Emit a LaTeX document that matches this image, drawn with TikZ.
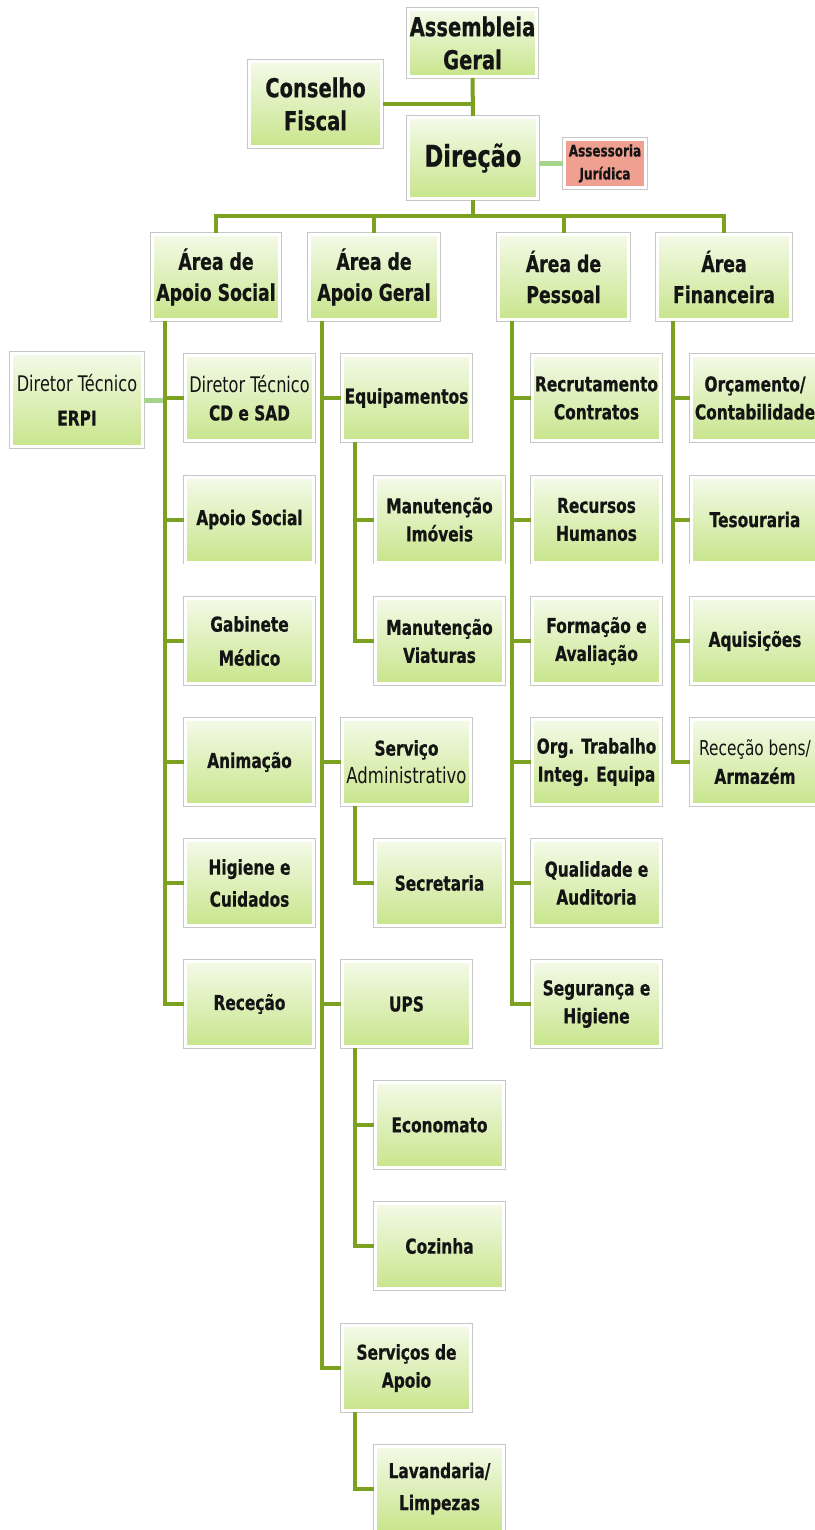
\documentclass[tikz,border=0pt]{standalone}
\usepackage{fontspec}
\setmainfont{DejaVu Sans}[FakeStretch=0.75, BoldFeatures={FakeBold=0.6}]
\newcommand\myfs[2]{\fontsize{#1}{#2}\selectfont}
\definecolor{lnk}{RGB}{124,160,32}
\definecolor{lite}{RGB}{166,212,140}
\definecolor{gtop}{RGB}{244,250,232}
\definecolor{gbot}{RGB}{200,229,140}
\definecolor{pinkbox}{RGB}{240,160,145}
\definecolor{txt}{RGB}{20,20,20}
\tikzset{
  box/.style={shape=rectangle, top color=gtop, bottom color=gbot,
    preaction={draw=black!22, line width=4.2pt},
    draw=white, line width=3pt, inner sep=1pt,
    align=center, text=txt, font=\bfseries},
  top/.style={box, font=\bfseries\myfs{26}{33}},
  area/.style={box, minimum height=85pt, font=\bfseries\myfs{23}{31}},
  child/.style={box, minimum width=128pt, minimum height=85pt, font=\bfseries\myfs{20.5}{28}},
  conn/.style={draw=lnk, line width=4pt},
  liteconn/.style={draw=lite, line width=5pt}
}
\begin{document}
\begin{tikzpicture}[x=1pt,y=-1pt]
\useasboundingbox (0,0) rectangle (814,1530);
% top
\node[top, minimum width=128pt, minimum height=67pt] (AG) at (472.5,43) {Assembleia\\Geral};
\node[top, minimum width=132pt, minimum height=85pt] (CF) at (315.5,104) {Conselho\\Fiscal};
\node[box, minimum width=129pt, minimum height=81pt, font=\bfseries\myfs{30}{40}] (DIR) at (473,158) {Direção};
\node[box, top color=pinkbox, bottom color=pinkbox, minimum width=81pt, minimum height=48pt, font=\bfseries\myfs{16}{23}] (AJ) at (605,163.5) {Assessoria\\Jurídica};
% areas
\node[area, minimum width=127pt] (A1) at (216,277) {Área de\\Apoio Social};
\node[area, minimum width=129pt] (A2) at (374,277) {Área de\\Apoio Geral};
\node[area, minimum width=130pt] (A3) at (563.5,277) {Área de\\Pessoal};
\node[area, minimum width=133pt] (A4) at (724,277) {Área\\Financeira};
% Apoio Social
\node[child] (s1) at (249.5,398) {{\mdseries\myfs{21.5}{28}Diretor Técnico}\\CD e SAD};
\node[child] (s2) at (249.5,519.5) {Apoio Social};
\node[child, font=\bfseries\myfs{20.5}{34}] (s3) at (249.5,641) {Gabinete\\Médico};
\node[child] (s4) at (249.5,762) {Animação};
\node[child, font=\bfseries\myfs{20.5}{32}] (s5) at (249.5,883) {Higiene e\\Cuidados};
\node[child] (s6) at (249.5,1004) {Receção};
\node[child, minimum width=131pt, minimum height=93pt, font=\bfseries\myfs{20.5}{34}] (ERPI) at (77,400) {{\mdseries\myfs{21.5}{34}Diretor Técnico}\\ERPI};
% Apoio Geral
\node[child] (g1) at (406.5,398) {Equipamentos};
\node[child] (g2) at (406.5,762) {Serviço\\{\mdseries\myfs{22}{28}Administrativo}};
\node[child] (g3) at (406.5,1004) {UPS};
\node[child] (g4) at (406.5,1368) {Serviços de\\Apoio};
\node[child] (g11) at (439.5,519.5) {Manutenção\\Imóveis};
\node[child] (g12) at (439.5,641) {Manutenção\\Viaturas};
\node[child] (g21) at (439.5,883) {Secretaria};
\node[child] (g31) at (439.5,1125) {Economato};
\node[child] (g32) at (439.5,1246) {Cozinha};
\node[child, font=\bfseries\myfs{20.5}{32}] (g41) at (439.5,1488.5) {Lavandaria/\\Limpezas};
% Pessoal
\node[child] (p1) at (596.5,398) {Recrutamento\\Contratos};
\node[child] (p2) at (596.5,519.5) {Recursos\\Humanos};
\node[child] (p3) at (596.5,641) {Formação e\\Avaliação};
\node[child] (p4) at (596.5,762) {Org. Trabalho\\Integ. Equipa};
\node[child] (p5) at (596.5,883) {Qualidade e\\Auditoria};
\node[child] (p6) at (596.5,1004) {Segurança e\\Higiene};
% Financeira
\node[child] (f1) at (755,398) {Orçamento/\\Contabilidade};
\node[child] (f2) at (755,519.5) {Tesouraria};
\node[child] (f3) at (755,641) {Aquisições};
\node[child] (f4) at (755,762) {{\mdseries\myfs{20.5}{28}Receção bens/}\\Armazém};
% connectors top
\draw[conn] (AG.south) -- (DIR.north);
\draw[conn] (CF.east) -- (CF.east -| AG.south);
\draw[liteconn] (DIR.east |- AJ.west) -- (AJ.west);
\coordinate (bar) at (473,216);
\draw[conn] (DIR.south) -- (bar);
\draw[conn] (bar) -| (A1.north);
\draw[conn] (bar) -| (A2.north);
\draw[conn] (bar) -| (A3.north);
\draw[conn] (bar) -| (A4.north);
% trunks
\coordinate (t1) at (165,321);
\coordinate (t2) at (322,321);
\coordinate (t3) at (512,321);
\coordinate (t4) at (673,321);
\draw[liteconn] (ERPI.east) -- (ERPI.east -| t1);
\foreach \c in {s1,s2,s3,s4,s5,s6} {\draw[conn] (t1) |- (\c.west);}
\foreach \c in {g1,g2,g3,g4} {\draw[conn] (t2) |- (\c.west);}
\foreach \c in {p1,p2,p3,p4,p5,p6} {\draw[conn] (t3) |- (\c.west);}
\foreach \c in {f1,f2,f3,f4} {\draw[conn] (t4) |- (\c.west);}
\coordinate (u1) at (355,442);
\coordinate (u2) at (355,806);
\coordinate (u3) at (355,1048);
\coordinate (u4) at (355,1412);
\draw[conn] (u1) |- (g11.west);
\draw[conn] (u1) |- (g12.west);
\draw[conn] (u2) |- (g21.west);
\draw[conn] (u3) |- (g31.west);
\draw[conn] (u3) |- (g32.west);
\draw[conn] (u4) |- (g41.west);
\end{tikzpicture}
\end{document}
